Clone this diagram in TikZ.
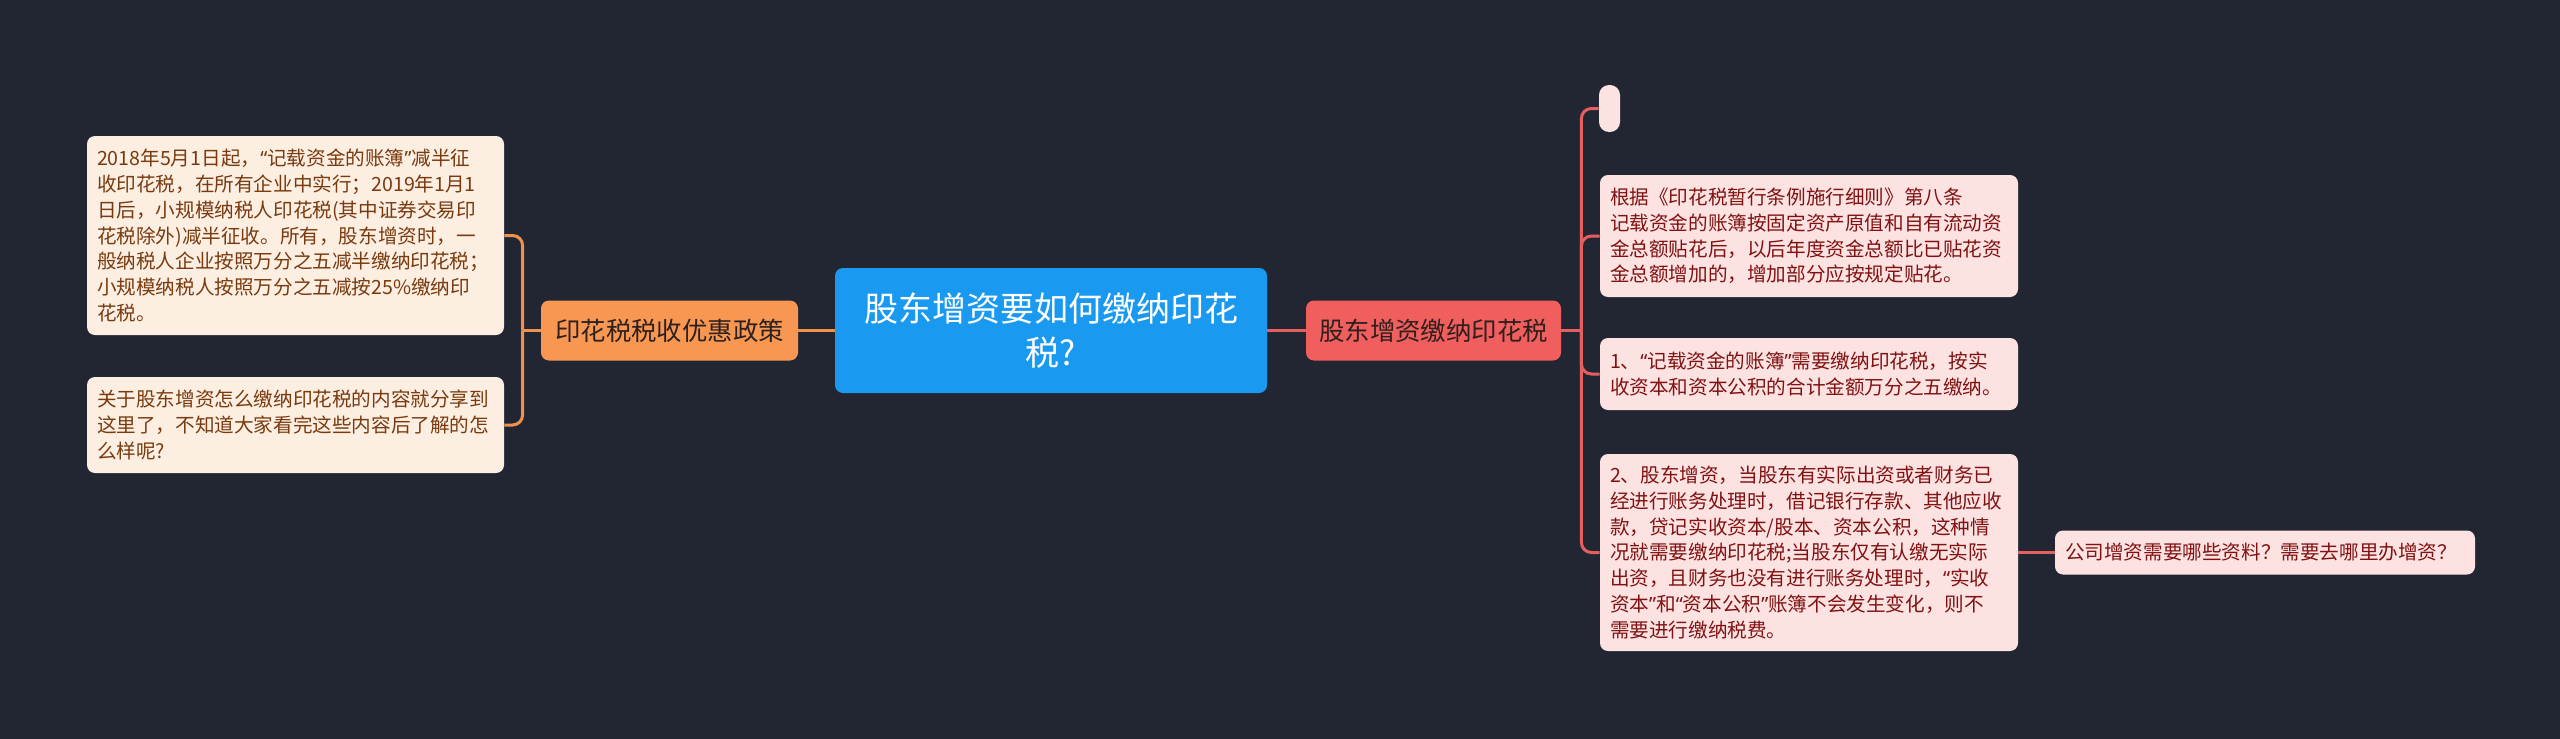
\documentclass[tikz,border=0pt]{standalone}
\usepackage{fontspec}
\newfontfamily\cjk{Noto Sans CJK SC}
\newfontfamily\latinq{Noto Sans}
\usepackage{tikz}

\definecolor{bgdark}{RGB}{34,38,50}
\definecolor{rootblue}{RGB}{26,153,240}
\definecolor{orangemain}{RGB}{247,151,82}
\definecolor{orangeleaf}{RGB}{253,238,226}
\definecolor{orangetext}{RGB}{120,58,14}
\definecolor{orangeline}{RGB}{240,146,76}
\definecolor{redmain}{RGB}{240,94,94}
\definecolor{redleaf}{RGB}{253,226,226}
\definecolor{redtext}{RGB}{128,18,18}
\definecolor{redline}{RGB}{228,96,96}
\definecolor{maintext}{RGB}{46,32,28}

% narrow curly quotes
\newcommand\lquo{{\latinq “}}
\newcommand\rquo{{\latinq ”}}

\tikzset{
  rootbox/.style={fill=rootblue, text=white, rounded corners=4pt, align=center,
    minimum width=216pt, minimum height=62.5pt, inner sep=2pt,
    font=\cjk\fontsize{17pt}{22pt}\selectfont},
  mainbox/.style={rounded corners=4pt, text=maintext, minimum height=30pt, inner sep=2pt,
    font=\cjk\fontsize{12.7pt}{15pt}\selectfont},
  leafbox/.style={rounded corners=4pt, align=left, inner xsep=5pt, inner ysep=3pt,
    font=\cjk\fontsize{9.8pt}{12.9pt}\selectfont},
  lleafbox/.style={leafbox, fill=orangeleaf, text=orangetext, text width=198.5pt},
  rleafbox/.style={leafbox, fill=redleaf, text=redtext, text width=199pt},
  lconn/.style={draw=orangeline, line width=1.5pt},
  rconn/.style={draw=redline, line width=1.5pt}
}

\begin{document}
\begin{tikzpicture}[x=0.5pt, y=-0.5pt]
	\fill[bgdark] (0,0) rectangle (2560,739);
	\useasboundingbox (0,0) rectangle (2560,739);
	% centre and main branches
	\node[rootbox] (root) at (1051,330.5) {股东增资要如何缴纳印花\\税?};
	\node[mainbox, fill=orangemain, minimum width=128.5pt] (policy) at (669.5,330.5) {印花税税收优惠政策};
	\node[mainbox, fill=redmain, minimum width=127.5pt] (paytax) at (1433.5,330.5) {股东增资缴纳印花税};
	% left leaves
	\node[lleafbox, minimum height=99.5pt] (policyA) at (295.5,235.5) {2018年5月1日起，\lquo 记载资金的账簿\rquo 减半征\\收印花税，在所有企业中实行；2019年1月1\\日后，小规模纳税人印花税(其中证券交易印\\花税除外)减半征收。所有，股东增资时，一\\般纳税人企业按照万分之五减半缴纳印花税；\\小规模纳税人按照万分之五减按25\%缴纳印\\花税。};
	\node[lleafbox, minimum height=48pt] (policyB) at (295.5,425) {关于股东增资怎么缴纳印花税的内容就分享到\\这里了，不知道大家看完这些内容后了解的怎\\么样呢?};
	% right leaves
	\node[fill=redleaf, rounded corners=5pt, minimum width=10.5pt, minimum height=23.5pt, inner sep=0pt] (payE) at (1609.5,108.5) {};
	\node[rleafbox, minimum height=61pt] (payA) at (1809,236) {根据《印花税暂行条例施行细则》第八条\\记载资金的账簿按固定资产原值和自有流动资\\金总额贴花后，以后年度资金总额比已贴花资\\金总额增加的，增加部分应按规定贴花。};
	\node[rleafbox, minimum height=36pt] (payB) at (1809,374) {1、\lquo 记载资金的账簿\rquo 需要缴纳印花税，按实\\收资本和资本公积的合计金额万分之五缴纳。};
	\node[rleafbox, minimum height=98.5pt] (payC) at (1809,552.5) {2、股东增资，当股东有实际出资或者财务已\\经进行账务处理时，借记银行存款、其他应收\\款，贷记实收资本/股本、资本公积，这种情\\况就需要缴纳印花税;当股东仅有认缴无实际\\出资，且财务也没有进行账务处理时，\lquo 实收\\资本\rquo 和\lquo 资本公积\rquo 账簿不会发生变化，则不\\需要进行缴纳税费。};
	\node[rleafbox, text width=200pt, minimum height=22pt] (payD) at (2265,552.5) {公司增资需要哪些资料？需要去哪里办增资？};
	% connectors
	\draw[lconn] (root.west) -- (policy.east);
	\draw[rconn] (root.east) -- (paytax.west);
	\draw[lconn] (policy.west) -- ++(-18,0) coordinate (lfork);
	\draw[lconn, rounded corners=5pt] (lfork) |- (policyA.east);
	\draw[lconn, rounded corners=5pt] (lfork) |- (policyB.east);
	\draw[rconn] (paytax.east) -- ++(20,0) coordinate (rfork);
	\foreach \leaf in {payE,payA,payB,payC}
		\draw[rconn, rounded corners=5pt] (rfork) |- (\leaf.west);
	\draw[rconn] (payC.east) -- (payD.west);
\end{tikzpicture}
\end{document}
